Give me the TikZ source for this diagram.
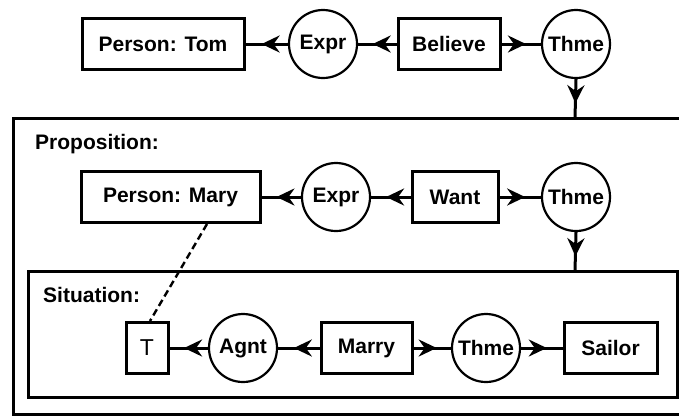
\documentclass[tikz,border=0pt]{standalone}
\usepackage{fontspec}
\setmainfont{Liberation Sans}
\usetikzlibrary{arrows.meta,decorations.markings}
\begin{document}
\begin{tikzpicture}[x=1pt,y=-1pt,
  txt/.style={font=\fontsize{21}{23}\selectfont\bfseries},
  box/.style={txt,draw,line width=3pt,minimum height=51pt,inner sep=0pt},
  rel/.style={txt,draw,circle,line width=2.2pt,minimum size=68pt,inner sep=0pt},
  conn/.style={line width=3pt,postaction={decorate},
    decoration={markings,mark=at position 0.62 with {\arrow{Stealth[length=18pt,width=17pt,inset=6pt]}}}},
  frame/.style={line width=3pt},
  lbl/.style={txt,anchor=base west,inner sep=0pt}]
\useasboundingbox (0,0) rectangle (679,416);
\clip (0,0) rectangle (679,416);
% outer proposition frame
\draw[frame] (700,118) -- (13,118) -- (13,414) -- (700,414);
\node[lbl] (prop) at (35,149) {Proposition:};
% situation frame
\draw[frame] (28,271) rectangle (677,397);
\node[lbl] (sit) at (43,302) {Situation:};
\coordinate (propTop) at (575,118);
\coordinate (sitTop) at (575,271);
% row 1
\node[box,minimum width=162pt] (tom) at (163,44) {Person: Tom};
\node[rel] (expr1) at (323,44) {Expr};
\node[box,minimum width=102pt] (believe) at (449,44) {Believe};
\node[rel] (thme1) at (576,44) {Thme};
% row 2
\node[box,minimum width=179pt] (mary) at (170.5,197) {Person: Mary};
\node[rel] (expr2) at (336,197) {Expr};
\node[box,minimum width=86pt] (want) at (455,197) {Want};
\node[rel] (thme2) at (576,197) {Thme};
% row 3
\node[box,minimum width=42pt,font=\fontsize{23}{24}\selectfont] (t) at (147,348) {T};
\node[rel] (agnt) at (243,348) {Agnt};
\node[box,minimum width=91pt] (marry) at (366.5,348) {Marry};
\node[rel] (thme3) at (486,348) {Thme};
\node[box,minimum width=93pt] (sailor) at (610.5,348) {Sailor};
% connectors
\draw[conn] (expr1) -- (tom);
\draw[conn] (believe) -- (expr1);
\draw[conn] (believe) -- (thme1);
\draw[conn] (thme1.south) -- (propTop);
\draw[conn] (expr2) -- (mary);
\draw[conn] (want) -- (expr2);
\draw[conn] (want) -- (thme2);
\draw[conn] (thme2.south) -- (sitTop);
\draw[conn] (agnt) -- (t);
\draw[conn] (marry) -- (agnt);
\draw[conn] (marry) -- (thme3);
\draw[conn] (thme3) -- (sailor);
\draw[line width=2.4pt,dash pattern=on 7pt off 4pt] (mary.south -| 207,0) -- (t.north -| 150,0);
\end{tikzpicture}
\end{document}
